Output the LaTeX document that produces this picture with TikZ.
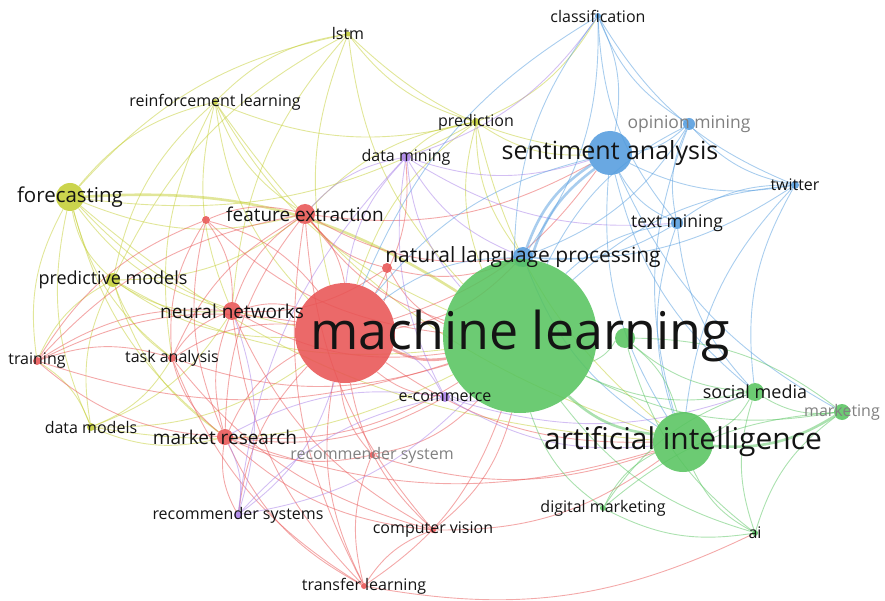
\documentclass[tikz,border=0pt]{standalone}
\usepackage{fontspec}
\setmainfont{Open Sans}
\definecolor{kwred}{RGB}{232,84,84}
\definecolor{kwgreen}{RGB}{88,196,96}
\definecolor{kwblue}{RGB}{84,156,222}
\definecolor{kwyellow}{RGB}{196,206,52}
\definecolor{kwpurple}{RGB}{168,128,232}
\definecolor{kwtext}{RGB}{20,20,20}
\definecolor{kwfaded}{RGB}{128,128,128}
\pgfdeclarelayer{links}
\pgfsetlayers{links,main}

\begin{document}
\begin{tikzpicture}[x=1pt,y=-1pt,
    term/.style={circle,inner sep=0pt,draw=none,fill opacity=0.88},
    red term/.style={term,fill=kwred},
    green term/.style={term,fill=kwgreen},
    blue term/.style={term,fill=kwblue},
    yellow term/.style={term,fill=kwyellow},
    purple term/.style={term,fill=kwpurple},
    word/.style={text=kwtext,inner sep=0pt,font=\fontsize{#1}{#1}\selectfont},
    link/.style={draw,line width=0.9pt,draw opacity=0.5,bend right=18},
    red link/.style={link,kwred},
    green link/.style={link,kwgreen},
    blue link/.style={link,kwblue},
    yellow link/.style={link,kwyellow},
    purple link/.style={link,kwpurple},
    heavy/.style={line width=2.6pt}]
  \useasboundingbox (0,0) rectangle (885,601);

  % yellow cluster
  \node[yellow term,minimum size=5pt](lstm) at (348,34){};
  \node[yellow term,minimum size=6pt](rl) at (215,102){};
  \node[yellow term,minimum size=28pt](fc) at (70,197){};
  \node[yellow term,minimum size=14pt](pm) at (113,280){};
  \node[yellow term,minimum size=8pt](dmod) at (91,427){};
  \node[yellow term,minimum size=8pt](pred) at (476,122){};
  % red cluster
  \node[red term,minimum size=100pt](redhub) at (345,333){};
  \node[red term,minimum size=20pt](fe) at (305,214){};
  \node[red term,minimum size=18pt](nn) at (232,311){};
  \node[red term,minimum size=8pt](reda) at (206,220){};
  \node[red term,minimum size=10pt](redb) at (387,268){};
  \node[red term,minimum size=8pt](train) at (37,361){};
  \node[red term,minimum size=8pt](task) at (172,358){};
  \node[red term,minimum size=16pt](mr) at (225,437){};
  \node[red term,minimum size=6pt](rsys) at (372,455){};
  \node[red term,minimum size=6pt](cv) at (433,530){};
  \node[red term,minimum size=6pt](tl) at (364,586){};
  % purple cluster
  \node[purple term,minimum size=10pt](dmin) at (406,157){};
  \node[purple term,minimum size=10pt](ecom) at (445,397){};
  \node[purple term,minimum size=8pt](rss) at (238,515){};
  % blue cluster
  \node[blue term,minimum size=44pt](sa) at (610,153){};
  \node[blue term,minimum size=20pt](nlp) at (523,257){};
  \node[blue term,minimum size=6pt](cls) at (598,16){};
  \node[blue term,minimum size=12pt](om) at (689,124){};
  \node[blue term,minimum size=8pt](tw) at (795,185){};
  \node[blue term,minimum size=12pt](tm) at (677,223){};
  % green cluster
  \node[green term,minimum size=154pt](ml) at (520,336){};
  \node[green term,minimum size=20pt](greenb) at (625,338){};
  \node[green term,minimum size=60pt](aint) at (683,442){};
  \node[green term,minimum size=18pt](sm) at (755,392){};
  \node[green term,minimum size=16pt](mkt) at (842,412){};
  \node[green term,minimum size=6pt](dm) at (603,508){};
  \node[green term,minimum size=6pt](ai) at (755,533){};

  \begin{pgfonlayer}{links}
  \begin{scope}[every edge/.style={yellow link}]
  \path (lstm) edge (rl) edge (fc) edge (pm) edge (pred) edge (redhub) edge (ml) edge (nn) edge (sa)
        (rl) edge (fc) edge (pm) edge (nn) edge (fe) edge (task) edge (redhub) edge (ml) edge (pred) edge (aint)
        (fc) edge (pm) edge (dmod) edge (train) edge (task) edge (nn) edge (fe) edge (mr) edge (redhub) edge[heavy,bend left=18] (ml) edge (pred) edge (aint)
        (pm) edge (dmod) edge (train) edge (task) edge (nn) edge (fe) edge (mr) edge (redhub) edge (ml)
        (dmod) edge (train) edge (task) edge (mr) edge (nn) edge (redhub) edge (ml)
        (pred) edge (sa) edge (nlp) edge (dmin) edge (fe) edge (redhub) edge (ml) edge (aint) edge (cls);
  \end{scope}
  \begin{scope}[every edge/.style={red link}]
  \path (redhub) edge[heavy] (ml) edge (fe) edge (nn) edge (task) edge (train) edge (mr) edge (reda) edge (redb)
              edge (rsys) edge (cv) edge (tl) edge (nlp) edge (sa) edge (aint) edge (ecom) edge (rss) edge (dmin)
        (fe) edge (nn) edge (reda) edge (redb) edge (ml) edge (task) edge (train) edge (mr) edge (nlp) edge (cv) edge (tl) edge (sa)
        (nn) edge (task) edge (train) edge (mr) edge (reda) edge (ml) edge (cv) edge (tl) edge (redb)
        (reda) edge (task) edge (train) edge (mr) edge (ml)
        (task) edge (train) edge (mr) edge (ml) edge (tl) edge (cv)
        (train) edge (mr) edge (ml)
        (mr) edge (ml) edge (rss) edge (tl) edge (cv) edge (rsys) edge (ecom) edge (aint)
        (rsys) edge (ml) edge (tl) edge (aint)
        (cv) edge (ml) edge (tl) edge (aint)
        (tl) edge (ml) edge (ai)
        (redb) edge (ml) edge (nlp);
  \end{scope}
  \begin{scope}[every edge/.style={purple link}]
  \path (dmin) edge (ml) edge (redhub) edge (sa) edge (ecom) edge (nlp) edge (fe) edge (rss) edge (tm) edge (cls)
        (ecom) edge (ml) edge (rss) edge (mr) edge (redhub) edge (aint) edge (sm)
        (rss) edge (ml) edge (redhub) edge (mr) edge (nn);
  \end{scope}
  \begin{scope}[every edge/.style={blue link}]
  \path (sa) edge[heavy] (ml) edge[heavy] (nlp) edge (cls) edge (om) edge (tw) edge (tm) edge (aint) edge (sm) edge (redhub) edge (mkt)
        (nlp) edge (ml) edge (cls) edge (om) edge (tm) edge (tw) edge (aint) edge (redhub)
        (cls) edge (om) edge (tw) edge (tm) edge (ml) edge (redhub)
        (om) edge (tw) edge (tm) edge (ml) edge (aint)
        (tw) edge (tm) edge (ml) edge (sm) edge (aint)
        (tm) edge (ml) edge (aint) edge (sm);
  \end{scope}
  \begin{scope}[every edge/.style={green link}]
  \path (ml) edge[heavy] (aint) edge (greenb) edge (sm) edge (mkt) edge (dm) edge (ai)
        (aint) edge (sm) edge[heavy] (mkt) edge (dm) edge (ai) edge (greenb)
        (sm) edge (mkt) edge (ai) edge (dm)
        (mkt) edge (ai) edge (dm) edge (greenb)
        (dm) edge (ai)
        (greenb) edge (sm) edge (ai);
  \end{scope}
  \end{pgfonlayer}

  % labels on top
  \node[word=52](mlL) at (ml){machine learning};
  \node[word=30](aintL) at (aint){artificial intelligence};
  \node[word=25](saL) at (sa){sentiment analysis};
  \node[word=21](nlpL) at (nlp){natural language processing};
  \node[word=20.5](fcL) at (fc){forecasting};
  \node[word=19](feL) at (fe){feature extraction};
  \node[word=19](nnL) at (nn){neural networks};
  \node[word=19](mrL) at (mr){market research};
  \node[word=18](pmL) at (pm){predictive models};
  \node[word=18](smL) at (sm){social media};
  \node[word=17.5](tmL) at (tm){text mining};
  \node[word=17.5,text=kwfaded](omL) at (om){opinion mining};
  \node[word=16,text=kwfaded](mktL) at (mkt){marketing};
  \node[word=16,text=kwfaded](rsysL) at (rsys){recommender system};
  \node[word=16](lstmL) at (lstm){lstm};
  \node[word=16](rlL) at (rl){reinforcement learning};
  \node[word=16](predL) at (pred){prediction};
  \node[word=16](dminL) at (dmin){data mining};
  \node[word=16](clsL) at (cls){classification};
  \node[word=16](twL) at (tw){twitter};
  \node[word=16](trainL) at (train){training};
  \node[word=16](taskL) at (task){task analysis};
  \node[word=16](dmodL) at (dmod){data models};
  \node[word=16](ecomL) at (ecom){e-commerce};
  \node[word=16](rssL) at (rss){recommender systems};
  \node[word=16](cvL) at (cv){computer vision};
  \node[word=16](tlL) at (tl){transfer learning};
  \node[word=16](dmL) at (dm){digital marketing};
  \node[word=16](aiL) at (ai){ai};
\end{tikzpicture}
\end{document}
